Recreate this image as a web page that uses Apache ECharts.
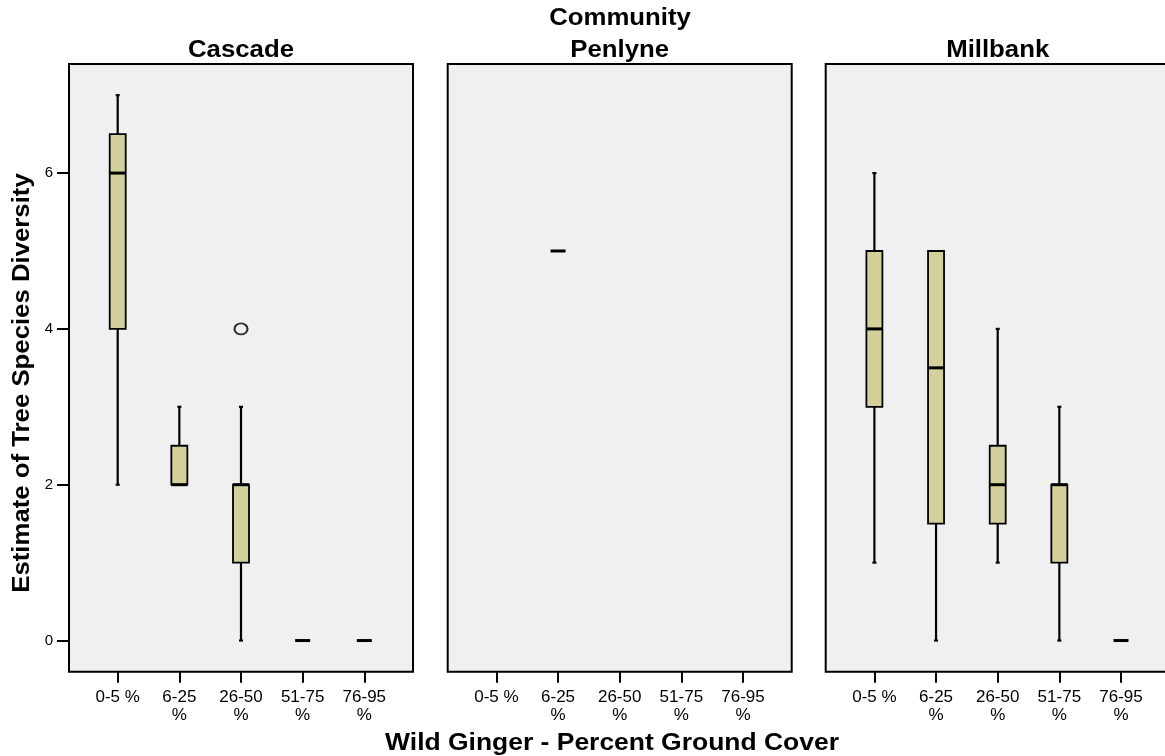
<!DOCTYPE html>
<html><head><meta charset="utf-8">
<script src="https://cdn.jsdelivr.net/npm/echarts@6/dist/echarts.min.js"></script>
<style>html,body{margin:0;padding:0;background:#fff;} #c{width:1165px;height:756px;}</style>
</head><body><div id="c"></div>
<script>
// ---------------- data ----------------
const categories = ['0-5 %', '6-25 %', '26-50 %', '51-75 %', '76-95 %'];
const tickLabels = ['0-5 %', '6-25\n%', '26-50\n%', '51-75\n%', '76-95\n%'];
const communities = ['Cascade', 'Penlyne', 'Millbank'];
const yTicks = [0, 2, 4, 6];
// per category: [min, Q1, median, Q3, max]
const cascadeBoxes  = [[2, 4, 6, 6.5, 7], [2, 2, 2, 2.5, 3], [0, 1, 2, 2, 3], [0, 0, 0, 0, 0], [0, 0, 0, 0, 0]];
const penlyneBoxes  = [null, [5, 5, 5, 5, 5], null, null, null];
const millbankBoxes = [[1, 3, 4, 5, 6], [0, 1.5, 3.5, 5, 5], [1, 1.5, 2, 2.5, 4], [0, 1, 2, 2, 3], [0, 0, 0, 0, 0]];
// outliers: [category index, value]
const cascadeOutliers  = [[2, 4]];
const penlyneOutliers  = [];
const millbankOutliers = [];

const titleText = 'Community';
const xTitle = 'Wild Ginger - Percent Ground Cover';
const yTitle = 'Estimate of Tree Species Diversity';

// ---------------- layout / style ----------------
const FONT = '"Liberation Sans", Arial, Helvetica, sans-serif';
const gridLefts = [69, 447.7, 825.7];
const GRID_TOP = 64, GRID_W = 344, GRID_H = 607.7;
const BOX_FILL = '#d4d09b';
const boxesByPanel = [cascadeBoxes, penlyneBoxes, millbankBoxes];
const outliersByPanel = [cascadeOutliers, penlyneOutliers, millbankOutliers];

function renderBox(params, api) {
  const x = api.value(0);
  const mn = api.value(1), q1 = api.value(2), md = api.value(3), q3 = api.value(4), mx = api.value(5);
  const pMin = api.coord([x, mn]), pQ1 = api.coord([x, q1]), pMd = api.coord([x, md]),
        pQ3 = api.coord([x, q3]), pMax = api.coord([x, mx]);
  const cx = pMin[0];
  const half = 8;
  const children = [];
  const stroke = '#000';
  if (q3 === q1) {
    children.push({ type: 'line', shape: { x1: cx - half + 0.5, y1: pMd[1], x2: cx + half - 0.5, y2: pMd[1] },
      style: { stroke: stroke, lineWidth: 3 } });
  } else {
    if (mx > q3) {
      children.push({ type: 'line', shape: { x1: cx, y1: pQ3[1], x2: cx, y2: pMax[1] }, style: { stroke: stroke, lineWidth: 2.2 } });
      children.push({ type: 'line', shape: { x1: cx - 2, y1: pMax[1], x2: cx + 2, y2: pMax[1] }, style: { stroke: stroke, lineWidth: 2.2 } });
    }
    if (mn < q1) {
      children.push({ type: 'line', shape: { x1: cx, y1: pQ1[1], x2: cx, y2: pMin[1] }, style: { stroke: stroke, lineWidth: 2.2 } });
      children.push({ type: 'line', shape: { x1: cx - 2, y1: pMin[1], x2: cx + 2, y2: pMin[1] }, style: { stroke: stroke, lineWidth: 2.2 } });
    }
    children.push({ type: 'rect', shape: { x: cx - half, y: pQ3[1], width: half * 2, height: pQ1[1] - pQ3[1] },
      style: { fill: BOX_FILL, stroke: stroke, lineWidth: 1.8 } });
    children.push({ type: 'line', shape: { x1: cx - half, y1: pMd[1], x2: cx + half, y2: pMd[1] },
      style: { stroke: stroke, lineWidth: 3 } });
  }
  return { type: 'group', children: children };
}

const grids = [], xAxes = [], yAxes = [], series = [];
for (let p = 0; p < 3; p++) {
  grids.push({ left: gridLefts[p], top: GRID_TOP, width: GRID_W, height: GRID_H, show: true,
    backgroundColor: '#f0f0f0', borderColor: '#000', borderWidth: 2, containLabel: false,
    outerBoundsMode: 'none' });
  xAxes.push({ type: 'value', gridIndex: p, min: -0.79, max: 4.79, position: 'bottom',
    axisLine: { show: false, onZero: false }, splitLine: { show: false },
    axisTick: { show: true, customValues: [0, 1, 2, 3, 4], length: 11, lineStyle: { color: '#000', width: 2 } },
    axisLabel: { show: true, customValues: [0, 1, 2, 3, 4], formatter: v => tickLabels[Math.round(v)],
      fontSize: 17, color: '#000', margin: 17, lineHeight: 18, fontFamily: FONT, hideOverlap: false } });
  yAxes.push({ type: 'value', gridIndex: p, min: -0.4, max: 7.4, position: 'left',
    axisLine: { show: false, onZero: false }, splitLine: { show: false },
    axisTick: { show: p === 0, customValues: yTicks, length: 12, lineStyle: { color: '#000', width: 2 } },
    axisLabel: { show: p === 0, customValues: yTicks, fontSize: 15, color: '#000', margin: 16, fontFamily: FONT } });
  const data = [];
  boxesByPanel[p].forEach((b, i) => { if (b) data.push([i].concat(b)); });
  series.push({ type: 'custom', name: communities[p], xAxisIndex: p, yAxisIndex: p,
    renderItem: renderBox, encode: { x: 0, y: [1, 2, 3, 4, 5] }, data: data, clip: false, z: 3 });
  if (outliersByPanel[p].length) {
    series.push({ type: 'scatter', xAxisIndex: p, yAxisIndex: p, data: outliersByPanel[p],
      symbol: 'circle', symbolSize: [13, 11], z: 4,
      itemStyle: { color: 'rgba(0,0,0,0)', borderColor: '#000', borderWidth: 2 } });
  }
}

const boldTitle = (text, x, y, size, sx, rot) => ({
  type: 'text', x: x, y: y, scaleX: sx, rotation: rot || 0, silent: true,
  style: { text: text, fill: '#000', font: 'bold ' + size + 'px ' + FONT, textAlign: 'center', textVerticalAlign: 'middle' }
});

const graphics = [
  boldTitle(titleText, 620, 19, 23, 1.12),
  boldTitle(communities[0], gridLefts[0] + GRID_W / 2, 51, 23, 1.12),
  boldTitle(communities[1], gridLefts[1] + GRID_W / 2, 51, 23, 1.12),
  boldTitle(communities[2], gridLefts[2] + GRID_W / 2, 51, 23, 1.12),
  boldTitle(xTitle, 612, 744, 23, 1.15),
  boldTitle(yTitle, 23, 383, 23, 1.12, Math.PI / 2)
];

const chart = echarts.init(document.getElementById('c'), null, { renderer: 'canvas' });
chart.setOption({
  animation: false,
  backgroundColor: '#fff',
  grid: grids, xAxis: xAxes, yAxis: yAxes, series: series,
  graphic: graphics
});
</script></body></html>
